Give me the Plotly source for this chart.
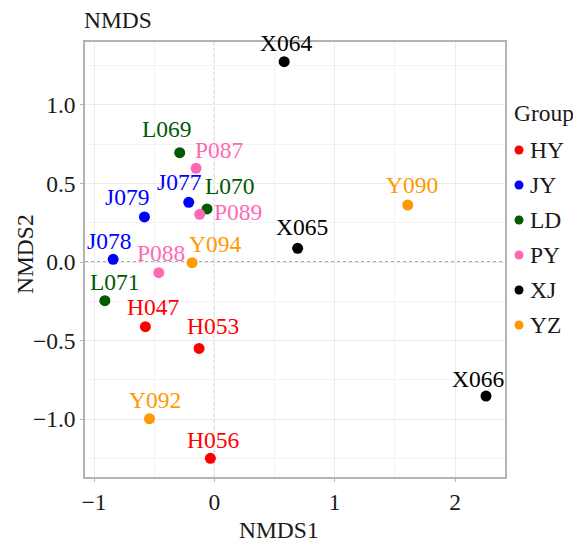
import plotly.graph_objects as go

samples = ["H047", "H053", "H056", "J077", "J078", "J079", "L069", "L070", "L071",
           "P087", "P088", "P089", "X064", "X065", "X066", "Y090", "Y092", "Y094"]
groups = ["HY"] * 3 + ["JY"] * 3 + ["LD"] * 3 + ["PY"] * 3 + ["XJ"] * 3 + ["YZ"] * 3
nmds1 = [-0.573, -0.127, -0.033, -0.213, -0.841, -0.581, -0.288, -0.061, -0.910,
         -0.152, -0.462, -0.122, 0.580, 0.692, 2.257, 1.607, -0.539, -0.185]
nmds2 = [-0.412, -0.550, -1.250, 0.380, 0.017, 0.287, 0.696, 0.338, -0.246,
         0.597, -0.068, 0.304, 1.276, 0.087, -0.854, 0.363, -0.998, -0.004]
group_order = ["HY", "JY", "LD", "PY", "XJ", "YZ"]
x_ticks = [-1, 0, 1, 2]
y_ticks = [-1.0, -0.5, 0.0, 0.5, 1.0]

# ---- styling (not data) ----
colors = {"HY": "#FF0000", "JY": "#0000FF", "LD": "#005A00", "PY": "#FF69B4",
          "XJ": "#000000", "YZ": "#FF9900"}
label_offsets = {  # pixel offsets of the text labels (dx, dy; dy positive = up)
    "H047": (8, 20), "H053": (14, 22), "H056": (3, 18), "J077": (-9, 20),
    "J078": (-4, 18), "J079": (-17, 20), "L069": (-13, 24), "L070": (23, 23),
    "L071": (10, 19), "P087": (23, 18), "P088": (2, 20), "P089": (38, 2),
    "X064": (2, 19), "X065": (4, 21), "X066": (-8, 17), "Y090": (4, 20),
    "Y092": (5, 19), "Y094": (23, 19),
}
FONT = "Liberation Serif, Times New Roman, serif"
FS = 23.5
TXT = "#1a1a1a"
PAGE_OFF = 8                      # default body margin of the html page
W, H = 581 - PAGE_OFF, 546 - PAGE_OFF
SL, ST, SR, SB = 85, 42, 505, 477  # panel edges on screen
L, T = SL - PAGE_OFF, ST - PAGE_OFF
R, B = W - (SR - PAGE_OFF), H - (SB - PAGE_OFF)
PW, PH = W - L - R, H - T - B


def px(xs):  # screen px -> paper
    return (xs - SL) / PW


def py(ys):
    return (SB - ys) / PH


fig = go.Figure()
for g in group_order:
    xs = [x for x, gg in zip(nmds1, groups) if gg == g]
    ys = [y for y, gg in zip(nmds2, groups) if gg == g]
    fig.add_trace(go.Scatter(x=xs, y=ys, mode="markers", name=g, showlegend=False,
                             marker=dict(color=colors[g], size=11), hoverinfo="skip"))

for s, g, x, y in zip(samples, groups, nmds1, nmds2):
    dx, dy = label_offsets[s]
    fig.add_annotation(x=x, y=y, text=s, showarrow=False, xshift=dx, yshift=dy,
                       font=dict(family=FONT, size=FS, color=colors[g]))

for kw in (dict(type="line", x0=0, x1=0, y0=0, y1=1, xref="x", yref="paper"),
           dict(type="line", x0=0, x1=1, y0=0, y1=0, xref="paper", yref="y")):
    fig.add_shape(**kw, line=dict(color="#555555", width=1, dash="dot"), layer="below")

# manual legend (ggplot style)
fig.add_annotation(x=px(512), y=py(113), xref="paper", yref="paper", text="Group",
                   showarrow=False, xanchor="left", yanchor="middle",
                   font=dict(family=FONT, size=FS, color=TXT))
for i, g in enumerate(group_order):
    yc = 150 + 35 * i
    fig.add_shape(type="circle", xref="paper", yref="paper",
                  xsizemode="pixel", ysizemode="pixel",
                  xanchor=px(519), yanchor=py(yc), x0=-4.5, x1=4.5, y0=-4.5, y1=4.5,
                  fillcolor=colors[g], line=dict(width=0))
    fig.add_annotation(x=px(528), y=py(yc), xref="paper", yref="paper", text=g,
                       showarrow=False, xanchor="left", yanchor="middle",
                       font=dict(family=FONT, size=FS, color=TXT))

# axis titles
fig.add_annotation(x=px(279), y=py(545), xref="paper", yref="paper", text="NMDS1",
                   showarrow=False, xanchor="center", yanchor="bottom",
                   font=dict(family=FONT, size=FS, color=TXT))
fig.add_annotation(x=px(25), y=py(254), xref="paper", yref="paper", text="NMDS2",
                   showarrow=False, xanchor="center", yanchor="middle", textangle=-90,
                   font=dict(family=FONT, size=FS, color=TXT))

axis_common = dict(showgrid=True, gridcolor="#EBEBEB", gridwidth=1, zeroline=False,
                   showline=True, linecolor="#B3B3B3", linewidth=1.5, mirror=True,
                   ticks="outside", ticklen=3, tickcolor="#B3B3B3", automargin=False,
                   tickfont=dict(family=FONT, size=FS, color=TXT))
fig.update_xaxes(**axis_common, range=[-1.075, 2.415], tickvals=x_ticks,
                 ticktext=[str(v).replace("-", "\u2212") for v in x_ticks],
                 minor=dict(dtick=0.5, tick0=0, showgrid=True, gridcolor="#F4F4F4", ticks=""))
fig.update_yaxes(**axis_common, range=[-1.369, 1.401], tickvals=y_ticks,
                 ticktext=[f"{v:.1f}".replace("-", "\u2212") for v in y_ticks],
                 minor=dict(dtick=0.25, tick0=0, showgrid=True, gridcolor="#F4F4F4", ticks=""))

fig.update_layout(
    width=W, height=H,
    margin=dict(l=L, r=R, t=T, b=B),
    plot_bgcolor="white", paper_bgcolor="white",
    title=dict(text="NMDS", x=(84 - PAGE_OFF) / W, xanchor="left", xref="container",
               y=1 - (20 - PAGE_OFF) / H, yanchor="middle", yref="container",
               font=dict(family=FONT, size=FS, color=TXT)),
    showlegend=False,
)

fig.write_html("out.html")
